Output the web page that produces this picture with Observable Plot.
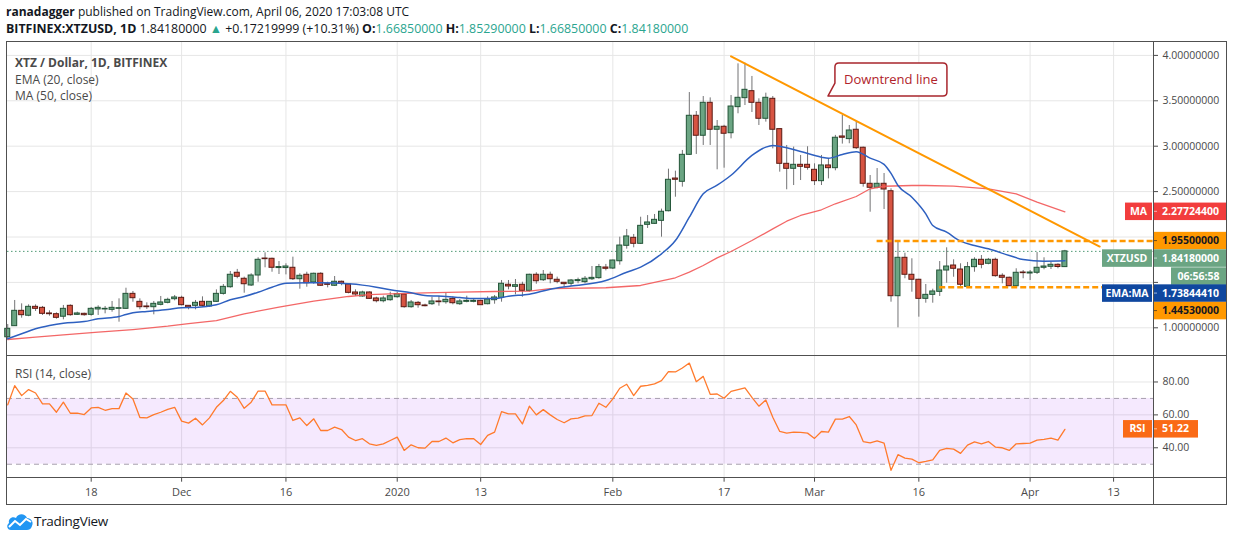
<!DOCTYPE html>
<html>
<head>
<meta charset="utf-8">
<script src="https://cdn.jsdelivr.net/npm/d3@7"></script>
<script src="https://cdn.jsdelivr.net/npm/@observablehq/plot@0.6"></script>
<style>
  body { margin: 0; background: #fff; }
  #root { position: relative; width: 1234px; height: 541px; overflow: hidden; background: #fff;
          font-family: "Open Sans", sans-serif; color: #4a4a4a; }
  .abs { position: absolute; }
  .hdr { left: 6px; color: #131722; white-space: nowrap; }
  .hdr b { font-weight: 700; }
  .teal { color: #2aa58f; }
  .leg { left: 15px; font-size: 12px; color: #4a4a4a; white-space: nowrap; z-index: 5; }
  .line { position: absolute; background: #505050; z-index: 6; }
  svg { overflow: visible; }
</style>
</head>
<body>
<div id="root">
  <div class="abs hdr" style="top:3px;font-size:12px"><b>ranadagger</b> published on TradingView.com, April 06, 2020 17:03:08 UTC</div>
  <div class="abs hdr" style="top:20px;font-size:12.4px"><b>BITFINEX:XTZUSD, 1D</b> 1.84180000 <span class="teal">&#9650;</span> +0.17219999 (+10.31%) <b>O:</b><span class="teal">1.66850000</span> <b>H:</b><span class="teal">1.85290000</span> <b>L:</b><span class="teal">1.66850000</span> <b>C:</b><span class="teal">1.84180000</span></div>
  <div id="price" class="abs" style="left:0;top:42px"></div>
  <div id="rsi" class="abs" style="left:0;top:355px"></div>
  <div class="abs leg" style="top:54px;font-weight:700">XTZ / Dollar, 1D, BITFINEX</div>
  <div class="abs leg" style="top:70.5px">EMA (20, close)</div>
  <div class="abs leg" style="top:87px">MA (50, close)</div>
  <div class="abs leg" style="top:365px">RSI (14, close)</div>
  <div class="line" style="left:6px;top:41px;width:1221px;height:1px"></div>
  <div class="line" style="left:6px;top:504px;width:1221px;height:1px"></div>
  <div class="line" style="left:6px;top:41px;width:1px;height:464px"></div>
  <div class="line" style="left:1226px;top:41px;width:1px;height:464px"></div>
  <div class="line" style="left:6px;top:355px;width:1221px;height:1px"></div>
  <div class="line" style="left:6px;top:477px;width:1221px;height:1px"></div>
  <div class="line" style="left:1153px;top:41px;width:1px;height:464px"></div>
  <div class="abs" style="left:6px;top:512px">
    <svg width="28" height="20" viewBox="0 0 28 20">
      <path d="M5 18 C1 18 0 13 3 11 C2 7 6 4 10 6 C12 1 19 1 21 6 C25 6 28 10 26 14 C25 17 23 18 21 18 Z" fill="#2196f3"/>
      <polyline points="3,15 9,9 14,13 20,7 25,10" fill="none" stroke="#fff" stroke-width="2"/>
    </svg>
  </div>
  <div class="abs" style="left:34px;top:512px;font-size:13.5px;color:#131722;letter-spacing:-0.3px">TradingView</div>
</div>
<script>
// ---------------- data ----------------
const startDate = "2019-11-06"; // first daily candle
const opens = [0.896,1.018,1.187,1.133,1.231,1.220,1.158,1.150,1.122,1.242,1.143,1.154,1.143,1.202,1.202,1.198,1.209,1.209,1.374,1.286,
1.235,1.227,1.253,1.275,1.315,1.330,1.242,1.242,1.286,1.235,1.286,1.374,1.447,1.606,1.540,1.466,1.576,1.763,1.760,1.658,
1.658,1.661,1.535,1.584,1.499,1.595,1.480,1.463,1.507,1.477,1.389,1.345,1.389,1.323,1.293,1.304,1.337,1.367,1.227,1.275,
1.246,1.260,1.290,1.282,1.319,1.260,1.286,1.286,1.297,1.260,1.304,1.330,1.474,1.451,1.474,1.407,1.584,1.524,1.584,1.529,
1.496,1.485,1.514,1.503,1.535,1.547,1.664,1.653,1.733,1.903,1.991,1.925,2.134,2.145,2.178,2.284,2.644,2.608,2.905,3.335,
3.115,3.478,3.181,3.214,3.143,3.430,3.529,3.606,3.478,3.302,3.522,3.188,2.806,2.751,2.795,2.795,2.740,2.615,2.788,2.758,
3.107,3.078,3.181,2.983,2.586,2.542,2.586,2.504,1.348,1.771,1.584,1.529,1.319,1.363,1.396,1.631,1.686,1.642,1.451,1.668,
1.749,1.705,1.749,1.573,1.551,1.458,1.609,1.598,1.606,1.661,1.672,1.694,1.6685];
const highs = [1.036,1.301,1.264,1.253,1.253,1.235,1.187,1.165,1.246,1.253,1.172,1.161,1.224,1.242,1.235,1.290,1.319,1.436,1.400,1.319,
1.275,1.290,1.345,1.326,1.356,1.348,1.242,1.301,1.341,1.286,1.418,1.477,1.620,1.643,1.558,1.595,1.771,1.826,1.767,1.730,
1.705,1.778,1.595,1.612,1.602,1.606,1.502,1.565,1.514,1.488,1.418,1.403,1.396,1.337,1.348,1.392,1.392,1.374,1.301,1.290,
1.260,1.337,1.348,1.385,1.341,1.312,1.348,1.319,1.304,1.341,1.356,1.521,1.521,1.532,1.502,1.590,1.606,1.631,1.613,1.558,
1.496,1.532,1.547,1.565,1.675,1.698,1.698,1.745,1.998,2.083,2.028,2.218,2.236,2.248,2.307,2.747,2.725,2.953,3.591,3.382,
3.547,3.532,3.283,3.230,3.558,3.907,3.914,3.768,3.522,3.584,3.547,3.188,3.008,2.990,2.898,2.994,2.806,2.898,2.861,3.119,
3.338,3.228,3.276,2.990,2.677,2.754,2.699,2.531,1.943,1.822,1.760,1.535,1.477,1.425,1.730,1.881,1.749,1.705,1.720,1.771,
1.796,1.764,1.767,1.595,1.558,1.650,1.631,1.631,1.829,1.771,1.723,1.705,1.8529];
const lows = [0.879,1.015,1.106,1.122,1.180,1.136,1.128,1.095,1.088,1.128,1.136,1.128,1.128,1.136,1.154,1.172,1.062,1.202,1.282,1.198,
1.202,1.143,1.242,1.264,1.297,1.242,1.198,1.198,1.227,1.224,1.279,1.360,1.436,1.540,1.381,1.455,1.502,1.661,1.612,1.587,
1.583,1.521,1.425,1.447,1.480,1.455,1.440,1.455,1.463,1.374,1.345,1.337,1.312,1.275,1.275,1.293,1.326,1.216,1.216,1.216,
1.231,1.246,1.238,1.260,1.253,1.246,1.275,1.275,1.246,1.253,1.260,1.282,1.418,1.363,1.337,1.392,1.480,1.510,1.485,1.485,
1.441,1.455,1.485,1.485,1.521,1.535,1.627,1.642,1.690,1.866,1.881,1.918,2.094,2.138,1.998,2.277,2.438,2.549,2.900,2.909,
3.008,3.008,2.740,2.758,3.081,3.357,3.448,3.371,3.228,3.265,2.971,2.714,2.520,2.567,2.622,2.736,2.567,2.567,2.640,2.729,
3.023,3.027,2.964,2.549,2.273,2.531,2.303,1.282,1.000,1.540,1.392,1.117,1.271,1.271,1.345,1.491,1.557,1.441,1.436,1.612,
1.650,1.694,1.557,1.485,1.455,1.455,1.540,1.521,1.587,1.639,1.642,1.650,1.6685];
const closes = [0.989,1.187,1.139,1.231,1.209,1.154,1.150,1.110,1.209,1.139,1.158,1.139,1.209,1.220,1.209,1.220,1.216,1.374,1.326,1.227,
1.227,1.264,1.279,1.308,1.334,1.249,1.224,1.275,1.242,1.286,1.374,1.451,1.584,1.562,1.480,1.576,1.749,1.756,1.661,1.669,
1.675,1.535,1.573,1.491,1.595,1.463,1.473,1.507,1.485,1.385,1.367,1.389,1.319,1.293,1.323,1.348,1.370,1.227,1.279,1.249,
1.238,1.290,1.282,1.308,1.271,1.290,1.297,1.297,1.249,1.312,1.334,1.485,1.455,1.469,1.407,1.584,1.513,1.584,1.535,1.507,
1.481,1.521,1.525,1.540,1.550,1.668,1.650,1.741,1.906,2.006,1.925,2.123,2.160,2.189,2.278,2.630,2.630,2.905,3.335,3.115,
3.478,3.181,3.214,3.137,3.437,3.533,3.621,3.478,3.302,3.533,3.181,2.806,2.751,2.795,2.773,2.762,2.615,2.788,2.758,3.093,
3.093,3.173,2.978,2.586,2.542,2.586,2.523,1.348,1.771,1.584,1.529,1.319,1.363,1.400,1.631,1.675,1.650,1.474,1.668,1.749,
1.694,1.749,1.569,1.551,1.458,1.606,1.602,1.609,1.661,1.675,1.694,1.6696,1.8418];

// EMA (20) and MA (50): candle index -> value
const emaIdx = [0,2,4,6,8,11,13,16,17,18,20,23,25,27,30,32,34,36,38,40,43,45,49,51,53,55,58,60,63,65,67,70,72,75,78,81,86,89,91,94,96,98,100,102,104,107,109,110,112,114,117,118,120,122,124,126,127,128,130,132,133,135,137,139,141,144,146,149,152];
const emaVal = [0.880,0.934,0.989,1.025,1.051,1.069,1.099,1.125,1.147,1.165,1.180,1.202,1.222,1.224,1.253,1.308,1.345,1.392,1.447,1.491,1.495,1.495,1.484,1.470,1.447,1.418,1.385,1.356,1.345,1.334,1.323,1.323,1.348,1.370,1.425,1.460,1.521,1.612,1.668,1.815,1.961,2.218,2.476,2.570,2.680,2.898,2.990,3.008,2.983,2.942,2.879,2.868,2.909,2.940,2.868,2.800,2.700,2.567,2.438,2.255,2.127,2.053,1.954,1.906,1.870,1.796,1.752,1.734,1.738];
const maIdx = [0,4,8,13,18,23,26,30,34,39,44,49,52,55,60,65,70,75,78,86,91,96,98,100,102,104,107,110,112,114,117,119,122,124,126,130,132,136,141,145,148,152];
const maVal = [0.871,0.897,0.923,0.952,0.981,1.018,1.047,1.080,1.154,1.227,1.293,1.345,1.365,1.374,1.385,1.392,1.400,1.405,1.432,1.441,1.466,1.551,1.613,1.686,1.770,1.840,1.961,2.090,2.174,2.237,2.300,2.366,2.446,2.531,2.559,2.567,2.567,2.560,2.531,2.476,2.383,2.277];

// RSI (14)
const rsiVal = [66.1,77.8,71.7,75.4,73.3,66.7,66.7,61.6,67.7,61.0,61.0,60.2,64.2,64.6,62.8,63.8,63.8,73.3,69.7,58.4,
58.2,60.2,61.6,63.4,64.6,56.2,55.0,58.0,53.9,58.2,64.6,68.7,74.3,70.7,64.0,67.7,74.5,74.5,66.1,66.1,
66.1,56.6,58.2,53.5,57.6,50.5,50.5,52.5,51.1,46.5,44.4,45.5,42.4,41.4,42.4,44.4,46.5,38.4,41.8,40.0,
39.8,43.8,43.8,45.9,43.0,44.9,45.5,45.5,42.0,47.5,49.5,62.0,60.6,60.6,54.5,65.3,60.0,63.2,60.0,
57.2,55.2,57.6,58.0,59.4,59.6,67.1,64.6,69.7,76.2,78.6,71.7,77.4,78.0,78.8,80.8,86.3,86.1,88.5,91.5,
80.2,83.4,72.5,72.7,70.1,74.3,75.4,76.4,70.7,65.3,69.1,58.6,49.9,48.9,49.5,49.3,48.9,45.7,49.9,49.5,
57.4,57.4,59.0,53.9,43.8,43.0,44.2,42.8,26.3,35.8,33.7,33.1,30.9,31.7,32.7,38.4,39.6,39.2,36.6,41.6,
43.6,42.4,43.8,40.4,40.0,38.4,42.4,42.6,42.8,44.7,45.1,45.9,44.7,51.22];

// axes
const priceTicks = [1, 1.5, 2, 2.5, 3, 3.5, 4];
const priceTicksHidden = [1.5, 2]; // tick labels covered by the value labels in the reference
const rsiTicks = [40, 60, 80];
const rsiBand = [30, 70];
const tickDates = ["2019-11-18","2019-12-01","2019-12-16","2020-01-01","2020-01-13","2020-02-01","2020-02-17","2020-03-01","2020-03-16","2020-04-01","2020-04-13"];
const tickLabels = ["18","Dec","16","2020","13","Feb","17","Mar","16","Apr","13"];

// drawings
const levelPrices = [1.955, 1.4453];
const levelStarts = ["2020-03-10", "2020-03-19"];
const trendDates = ["2020-02-18", "2020-04-11"];
const trendPrices = [3.99, 1.895];
const calloutDate = "2020-03-03";
const calloutPrice = 3.547;
const calloutText = "Downtrend line";

// last values (right-hand labels)
const labelValues = [2.277244, 1.955, 1.8418, 1.7384441, 1.4453];
const labelTexts = ["2.27724400", "1.95500000", "1.84180000", "1.73844410", "1.44530000"];
const labelTags = ["MA", "", "XTZUSD", "EMA:MA", ""];
const countdown = "06:56:58";
const rsiLast = 51.22;

// ---------------- styles ----------------
const FONT = "'Open Sans', sans-serif";
const GRID = "#e6e6e6";
const UP = "#6ba583", UP_LINE = "#225437", DOWN = "#d75442", DOWN_LINE = "#5b1a13";
const labelFill = ["#f23d3d", "#ff9800", "#6ba583", "#0f479f", "#ff9800"];
const labelInk = ["#fff", "#131722", "#fff", "#fff", "#131722"];

// ---------------- build ----------------
const DAY = 864e5;
const t0 = Date.parse(startDate);
const dates = closes.map((_, i) => new Date(t0 + i * DAY));
const candles = dates.map((date, i) => ({date, open: opens[i], high: highs[i], low: lows[i], close: closes[i], up: closes[i] >= opens[i]}));
const ema = emaIdx.map((k, j) => ({date: dates[k], value: emaVal[j]}));
const ma = maIdx.map((k, j) => ({date: dates[k], value: maVal[j]}));
const rsi = rsiVal.map((v, i) => ({date: dates[i], value: v}));
const ticks = tickDates.map(s => new Date(Date.parse(s)));
const tickMap = new Map(ticks.map((d, i) => [+d, tickLabels[i]]));
const xDomain = [new Date(t0 - 0.035 * DAY), new Date(t0 + 164.74 * DAY)];
const half = 0.36 * DAY;
const levels = levelPrices.map((p, i) => ({price: p, from: new Date(Date.parse(levelStarts[i])), to: xDomain[1]}));
const trend = trendDates.map((d, i) => ({date: new Date(Date.parse(d)), price: trendPrices[i]}));

function stackLabels(items, scaleY, H) {
  const sorted = items.map(d => ({...d, y0: scaleY(d.value)})).sort((a, b) => a.y0 - b.y0);
  let bottom = -Infinity;
  for (const d of sorted) {
    d.y = Math.max(d.y0, bottom + H / 2);
    bottom = d.y + H / 2 + (d.sub ? H : 0);
  }
  return sorted;
}

function axisLabels(items, valueW) {
  return (index, scales, values, dim) => {
    const H = 17.5;
    const x0 = dim.width - dim.marginRight;
    const g = d3.create("svg:g").attr("font-family", FONT).attr("font-size", 10.5).attr("font-weight", 700)
      .attr("text-anchor", "start");
    for (const d of stackLabels(items, scales.y, H)) {
      g.append("rect").attr("x", x0).attr("y", d.y - H / 2).attr("width", valueW).attr("height", H).attr("fill", d.fill);
      g.append("line").attr("x1", x0).attr("x2", x0 + 4).attr("y1", d.y).attr("y2", d.y).attr("stroke", d.ink).attr("stroke-opacity", 0.6);
      g.append("text").attr("x", x0 + 9).attr("y", d.y).attr("dy", "0.35em").attr("text-anchor", "start").attr("fill", d.ink).text(d.text);
      if (d.tag) {
        const tw = Math.max(27, d.tag.length * 7 + 8);
        g.append("rect").attr("x", x0 - 1 - tw).attr("y", d.y - H / 2).attr("width", tw).attr("height", H).attr("fill", d.fill);
        g.append("text").attr("x", x0 - 1 - tw / 2).attr("y", d.y).attr("dy", "0.35em").attr("text-anchor", "middle").attr("fill", d.ink).text(d.tag);
      }
      if (d.sub) {
        g.append("rect").attr("x", x0 + 18).attr("y", d.y + H / 2 + 0.5).attr("width", valueW - 18).attr("height", H).attr("fill", d.fill);
        g.append("text").attr("x", x0 + 18 + (valueW - 18) / 2).attr("y", d.y + H).attr("dy", "0.4em").attr("text-anchor", "middle").attr("fill", d.ink).text(d.sub);
      }
    }
    return g.node();
  };
}

const priceItems = labelValues.map((v, i) => ({
  value: v, text: labelTexts[i], tag: labelTags[i], fill: labelFill[i], ink: labelInk[i],
  sub: labelTags[i] === "XTZUSD" ? countdown : null
}));

function callout(index, scales) {
  const ax = scales.x(new Date(Date.parse(calloutDate)));
  const ay = scales.y(calloutPrice);
  const w = 119, h = 33, r = 4, off = 7;
  const path = `M${ax},${ay} L${ax + off},${ay - 13} L${ax + off},${ay - h + r} Q${ax + off},${ay - h} ${ax + off + r},${ay - h}
    L${ax + w - r},${ay - h} Q${ax + w},${ay - h} ${ax + w},${ay - h + r} L${ax + w},${ay - r} Q${ax + w},${ay} ${ax + w - r},${ay} Z`;
  const g = d3.create("svg:g");
  g.append("path").attr("d", path).attr("fill", "#fff").attr("stroke", "#a8262d").attr("stroke-width", 1.5).attr("stroke-linejoin", "round");
  g.append("text").attr("x", ax + off + (w - off) / 2).attr("y", ay - h / 2).attr("dy", "0.35em").attr("text-anchor", "middle")
    .attr("font-family", FONT).attr("font-size", 13).attr("fill", "#b0232b").text(calloutText);
  return g.node();
}

const pricePlot = Plot.plot({
  width: 1234, height: 313,
  marginLeft: 7, marginRight: 81, marginTop: 0, marginBottom: 0,
  x: {type: "utc", domain: xDomain, axis: null},
  y: {domain: [0.695, 4.142]},
  color: {type: "identity"},
  style: {fontFamily: FONT, fontSize: "10.5px", color: "#4a4a4a", background: "transparent", overflow: "visible"},
  marks: [
    Plot.ruleX(ticks, {stroke: GRID}),
    Plot.ruleY(priceTicks, {stroke: GRID}),
    Plot.ruleY([labelValues[2]], {stroke: "#4f9a74", strokeDasharray: "1.5,2.5"}),
    Plot.ruleX(candles, {x: "date", y1: "low", y2: "high", stroke: "#737375"}),
    Plot.rect(candles, {
      x1: d => new Date(+d.date - half), x2: d => new Date(+d.date + half),
      y1: "open", y2: "close",
      fill: d => d.up ? UP : DOWN, stroke: d => d.up ? UP_LINE : DOWN_LINE, strokeWidth: 1
    }),
    Plot.line(ma, {x: "date", y: "value", stroke: "#f25757", strokeWidth: 1.3, strokeOpacity: 0.9}),
    Plot.line(ema, {x: "date", y: "value", stroke: "#2e60c0", strokeWidth: 1.5, curve: "monotone-x"}),
    Plot.ruleY(levels, {y: "price", x1: "from", x2: "to", stroke: "#ff9800", strokeWidth: 2.5, strokeDasharray: "6,3"}),
    Plot.line(trend, {x: "date", y: "price", stroke: "#ff9800", strokeWidth: 2}),
    callout,
    Plot.axisY(priceTicks, {anchor: "right", tickFormat: d => priceTicksHidden.includes(d) ? "" : d.toFixed(8), tickSize: 4, tickPadding: 5, label: null, fontSize: 10.5}),
    axisLabels(priceItems, 73)
  ]
});
document.getElementById("price").append(pricePlot);

const rsiItems = [{value: rsiLast, text: rsiLast.toFixed(2), tag: "RSI", fill: "#fa6a16", ink: "#fff", sub: null}];

const rsiPlot = Plot.plot({
  width: 1234, height: 150,
  marginLeft: 7, marginRight: 81, marginTop: 0, marginBottom: 27.3,
  x: {type: "utc", domain: xDomain},
  y: {domain: [21.5, 96.1]},
  style: {fontFamily: FONT, fontSize: "11px", color: "#4a4a4a", background: "transparent", overflow: "visible"},
  marks: [
    Plot.ruleX(ticks, {stroke: GRID}),
    Plot.ruleY(rsiTicks, {stroke: GRID}),
    Plot.rect([{lo: rsiBand[0], hi: rsiBand[1]}], {y1: "lo", y2: "hi", fill: "#9c27f5", fillOpacity: 0.1}),
    Plot.ruleY(rsiBand, {stroke: "#a79fae", strokeDasharray: "5,4"}),
    Plot.line(rsi, {x: "date", y: "value", stroke: "#ff7a2c", strokeWidth: 1.3}),
    Plot.axisX(ticks, {tickFormat: d => tickMap.get(+d), tickSize: 4, tickPadding: 6, label: null, fontSize: 11}),
    Plot.axisY(rsiTicks, {anchor: "right", tickFormat: d => d.toFixed(2), tickSize: 4, tickPadding: 5, label: null, fontSize: 10.5}),
    axisLabels(rsiItems, 45)
  ]
});
document.getElementById("rsi").append(rsiPlot);
</script>
</body>
</html>
